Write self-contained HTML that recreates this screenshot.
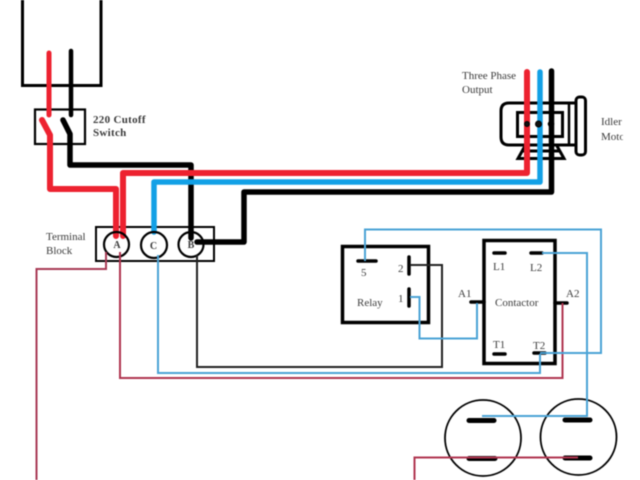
<!DOCTYPE html>
<html>
<head>
<meta charset="utf-8">
<style>
html,body{margin:0;padding:0;background:#fff;width:640px;height:480px;overflow:hidden}
svg{display:block;filter:blur(.5px)}
text{font-family:"Liberation Serif",serif;fill:#3a3a3a}
</style>
</head>
<body>
<svg width="640" height="480" viewBox="0 0 640 480" xmlns="http://www.w3.org/2000/svg">
<g fill="none" stroke="#000" stroke-linejoin="miter">
  <!-- Supply box -->
  <path d="M22.500 -3V85.500H101V-3" stroke-width="3"/>
  <!-- Switch box -->
  <rect x="35" y="109.500" width="50" height="34.500" stroke-width="2.200"/>
  <!-- Terminal block -->
  <rect x="96" y="227" width="118" height="34" stroke-width="2"/>
  <!-- Relay, contactor -->
  <rect x="342.500" y="246.500" width="86" height="76" stroke-width="3.500"/>
  <rect x="484" y="240.500" width="71" height="123" stroke-width="3.500"/>
  <!-- Motor -->
  <path d="M509 103H576V145H509Q501 145 501 137V111Q501 103 509 103Z" stroke-width="3"/>
  <rect x="517.500" y="112.500" width="45" height="24" stroke-width="3"/>
  <path d="M569 103V145" stroke-width="2.500"/>
  <rect x="576" y="97" width="9.500" height="58" rx="3.500" stroke-width="3"/>
  <path d="M525 146L518 158.500H564L557 146M522 151H560" stroke-width="3"/>
  <!-- Receptacle circles -->
  <circle cx="483" cy="438" r="38" stroke-width="1.800"/>
  <circle cx="578.500" cy="437" r="38" stroke-width="1.800"/>
</g>

<!-- Fat wires -->
<g fill="none" stroke-linecap="round" stroke-linejoin="round">
  <path d="M49 53V115" stroke="#ed2230" stroke-width="5"/>
  <path d="M71 51V115" stroke="#000" stroke-width="4.500"/>
  <path d="M42 120L50 135V189H116V236" stroke="#ed2230" stroke-width="6"/>
  <path d="M63 120L70 134V165H191V238" stroke="#000" stroke-width="5.500"/>
  <path d="M123 236V173H527V72" stroke="#ed2230" stroke-width="6"/>
  <path d="M154 232V182H540V72" stroke="#12a0e6" stroke-width="5.500"/>
  <path d="M197 242H244V192H551.500V71" stroke="#000" stroke-width="5.500"/>
</g>

<!-- Motor terminals -->
<g fill="#111" stroke="#000">
  <circle cx="527" cy="124" r="2.500"/>
  <circle cx="538.500" cy="124" r="3"/>
  <circle cx="551" cy="124" r="2.500" fill="none" stroke-width="1.500"/>
</g>

<!-- Terminal circles -->
<g fill="none" stroke="#000" stroke-width="2.200">
  <circle cx="116.500" cy="244.500" r="12.500"/>
  <circle cx="154" cy="245" r="13"/>
  <circle cx="191" cy="244.500" r="12.500"/>
</g>

<!-- Contact bars -->
<g stroke="#000" stroke-width="3.500" stroke-linecap="round" fill="none">
  <path d="M358 261H376"/>
  <path d="M409 257V274"/>
  <path d="M409 289V306"/>
  <path d="M471 302H484"/>
  <path d="M555 303H567"/>
  <path d="M494 253H505"/>
  <path d="M531 253H542"/>
  <path d="M494 354H505"/>
  <path d="M534 353H545"/>
  <path d="M469 420.500H494" stroke-width="5"/>
  <path d="M469 458.500H495" stroke-width="5"/>
  <path d="M565 420H590" stroke-width="5"/>
  <path d="M565 458H590" stroke-width="5"/>
</g>

<!-- Thin wires -->
<g fill="none" stroke-width="2">
  <path d="M106 252V269H36.500V480" stroke="#a83a55"/>
  <path d="M120 252V378H562.500V303" stroke="#b03550"/>
  <path d="M414.500 480V457.500H578" stroke="#b03550"/>
  <path d="M158 255V373H540V354" stroke="#4aa3d6"/>
  <path d="M197 255V367H442V265H410" stroke="#222"/>
  <path d="M365 261V229.500H601V353H540" stroke="#4aa3d6"/>
  <path d="M410 297H419.500V338.500H477V303" stroke="#4aa3d6"/>
  <path d="M542 253H587V416H482" stroke="#4aa3d6"/>
</g>

<!-- Labels -->
<g font-size="11">
  <text x="93" y="123" font-weight="bold" style="letter-spacing:.3px">220 Cutoff</text>
  <text x="93" y="136" font-weight="bold" style="letter-spacing:.3px">Switch</text>
  <text x="46" y="240">Terminal</text>
  <text x="46" y="254">Block</text>
  <text x="462" y="79">Three Phase</text>
  <text x="462" y="93">Output</text>
  <text x="601" y="125">Idler</text>
  <text x="601" y="140">Motor</text>
  <text x="361" y="276">5</text>
  <text x="398" y="272">2</text>
  <text x="398" y="302">1</text>
  <text x="357" y="306">Relay</text>
  <text x="458" y="297">A1</text>
  <text x="566" y="297">A2</text>
  <text x="495" y="306">Contactor</text>
  <text x="493" y="270">L1</text>
  <text x="530" y="271">L2</text>
  <text x="493" y="348">T1</text>
  <text x="533" y="349">T2</text>
</g>
<g font-size="10" font-weight="bold" text-anchor="middle">
  <text x="117" y="248">A</text>
  <text x="153.500" y="249">C</text>
  <text x="191" y="248">B</text>
</g>
<rect x="623" y="100" width="17" height="50" fill="#fff"/>
</svg>
</body>
</html>
